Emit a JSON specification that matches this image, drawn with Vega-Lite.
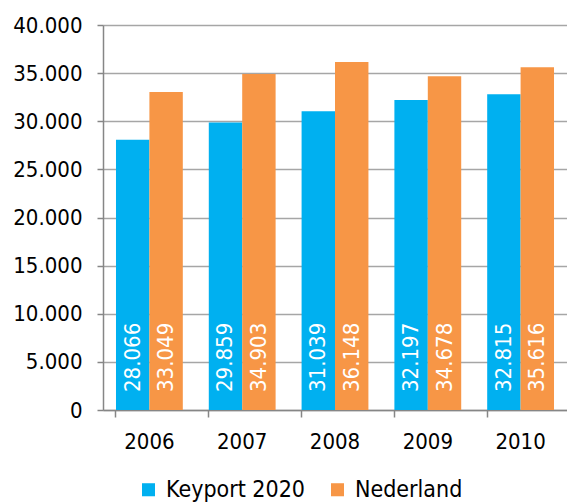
{
  "$schema": "https://vega.github.io/schema/vega-lite/v6.json",
  "width": 464,
  "height": 385,
  "autosize": {"type": "none"},
  "padding": {"left": 103, "top": 25, "right": 0, "bottom": 93},
  "background": "white",
  "config": {
    "locale": {"number": {"decimal": ",", "thousands": ".", "grouping": [3], "currency": ["€", ""]}},
    "font": "DejaVu Sans Condensed",
    "view": {"stroke": null},
    "axis": {"labelFont": "DejaVu Sans Condensed", "labelFontSize": 22, "labelColor": "#000000", "domainColor": "#868686", "domainWidth": 1.5, "tickColor": "#868686", "tickWidth": 1.5, "gridColor": "#A6A6A6", "gridWidth": 1.3, "title": null},
    "legend": {"labelFont": "DejaVu Sans Condensed", "labelFontSize": 23, "labelColor": "#000000"}
  },
  "data": {
    "values": [
      {"year": "2006", "series": "Keyport 2020", "value": 28066},
      {"year": "2006", "series": "Nederland", "value": 33049},
      {"year": "2007", "series": "Keyport 2020", "value": 29859},
      {"year": "2007", "series": "Nederland", "value": 34903},
      {"year": "2008", "series": "Keyport 2020", "value": 31039},
      {"year": "2008", "series": "Nederland", "value": 36148},
      {"year": "2009", "series": "Keyport 2020", "value": 32197},
      {"year": "2009", "series": "Nederland", "value": 34678},
      {"year": "2010", "series": "Keyport 2020", "value": 32815},
      {"year": "2010", "series": "Nederland", "value": 35616}
    ]
  },
  "encoding": {
    "x": {
      "field": "year", "type": "nominal",
      "scale": {"paddingInner": 0.28, "paddingOuter": 0.14},
      "axis": {"labelAngle": 0, "bandPosition": 0, "tickSize": 7, "labelPadding": 14, "grid": false}
    },
    "xOffset": {"field": "series", "type": "nominal", "sort": ["Keyport 2020", "Nederland"], "scale": {"paddingInner": 0, "paddingOuter": 0}}
  },
  "layer": [
    {
      "mark": {"type": "bar"},
      "encoding": {
        "y": {
          "field": "value", "type": "quantitative",
          "scale": {"domain": [0, 40000], "nice": false},
          "axis": {"tickCount": 8, "format": ",d", "tickSize": 6, "labelPadding": 15, "grid": true}
        },
        "color": {
          "field": "series", "type": "nominal",
          "scale": {"domain": ["Keyport 2020", "Nederland"], "range": ["#00B0F0", "#F79646"]},
          "legend": {"title": null, "orient": "none", "direction": "horizontal", "legendX": 34, "legendY": 453, "symbolType": "square", "symbolSize": 170, "symbolStrokeWidth": 0, "columnPadding": 20, "labelOffset": 6}
        }
      }
    },
    {
      "mark": {"type": "text", "angle": 270, "align": "left", "baseline": "middle", "dx": 18, "color": "white", "fontSize": 22, "font": "DejaVu Sans Condensed"},
      "encoding": {
        "y": {"datum": 0, "type": "quantitative"},
        "text": {"field": "value", "type": "quantitative", "format": ",d"}
      }
    }
  ]
}
